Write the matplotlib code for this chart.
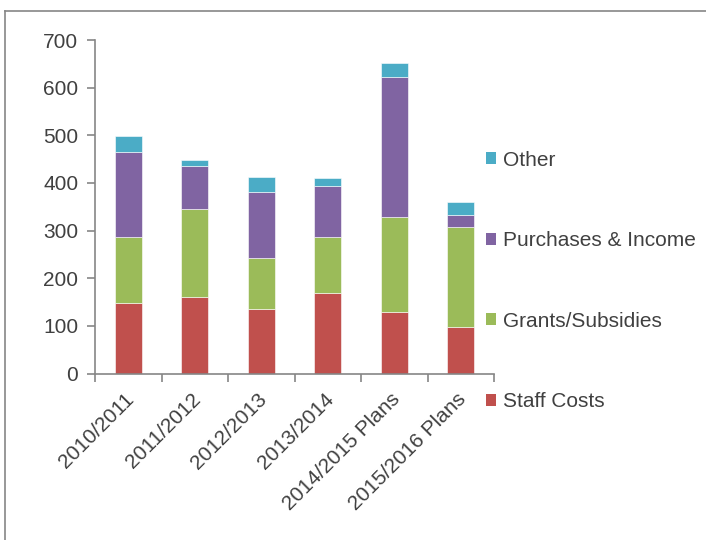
import matplotlib
matplotlib.use("Agg")
import matplotlib.pyplot as plt
import matplotlib.transforms as mtransforms
from matplotlib.patches import Patch
from matplotlib.lines import Line2D
import numpy as np

plt.rcParams["font.family"] = ["Liberation Sans", "DejaVu Sans"]

years = ["2010/2011", "2011/2012", "2012/2013", "2013/2014",
         "2014/2015 Plans", "2015/2016 Plans"]
staff_costs = [148, 161, 136, 168, 129, 98]
grants = [138, 184, 106, 118, 199, 209]
purchases = [179, 90, 139, 108, 295, 26]
other = [33, 13, 32, 17, 28, 28]

series = [("Staff Costs", staff_costs, "#C0504D"),
          ("Grants/Subsidies", grants, "#9BBB59"),
          ("Purchases & Income", purchases, "#8064A2"),
          ("Other", other, "#4BACC6")]

TXT = "#404040"
AX = "#868686"

fig = plt.figure(figsize=(7.06, 5.40), dpi=100)
ax = fig.add_axes([95 / 706, 1 - 373.5 / 540, 399 / 706, 333.5 / 540])

x = np.arange(len(years))
bottom = np.zeros(len(years))
for name, vals, col in series:
    ax.bar(x, vals, width=0.4, bottom=bottom, color=col,
           edgecolor="white", linewidth=0.4)
    bottom += np.array(vals)

ax.set_xlim(-0.5, len(years) - 0.5)
ax.set_ylim(0, 700)
ax.set_yticks(range(0, 701, 100))
ax.set_xticks(x)
ax.set_xticklabels(years, rotation=45, ha="right", rotation_mode="anchor")
ax.set_xticks(np.arange(-0.5, len(years)), minor=True)
ax.tick_params(axis="x", which="major", length=0, pad=8,
               labelsize=15, labelcolor=TXT)
ax.tick_params(axis="x", which="minor", length=6, width=1.2, color=AX)
ax.tick_params(axis="y", length=6, width=1.2, color=AX, pad=6,
               labelsize=15, labelcolor=TXT)

# nudge the slanted category labels down and to the left
shift = mtransforms.ScaledTranslation(-4 / 100, -5 / 100, fig.dpi_scale_trans)
for lbl in ax.get_xticklabels():
    lbl.set_transform(lbl.get_transform() + shift)

for side in ("top", "right"):
    ax.spines[side].set_visible(False)
for side in ("left", "bottom"):
    ax.spines[side].set_color(AX)
    ax.spines[side].set_linewidth(1.2)

# legend, top entry first
handles = [Patch(facecolor=col, edgecolor="none") for _, _, col in series[::-1]]
labels = [name for name, _, _ in series[::-1]]
fig.legend(handles, labels, loc="center left",
           bbox_to_anchor=(486 / 706, 1 - 281 / 540),
           frameon=False, fontsize=15, labelcolor=TXT,
           handlelength=0.5, handleheight=0.5, handletextpad=0.3,
           labelspacing=2.95, borderpad=0, borderaxespad=0)

# outer chart border (left and top edges)
fig.add_artist(Line2D([5 / 706, 5 / 706], [0, 1 - 11 / 540],
                      color=AX, lw=1.2, transform=fig.transFigure))
fig.add_artist(Line2D([5 / 706, 1], [1 - 11 / 540, 1 - 11 / 540],
                      color=AX, lw=1.2, transform=fig.transFigure))

fig.savefig("out.png", dpi=100)
